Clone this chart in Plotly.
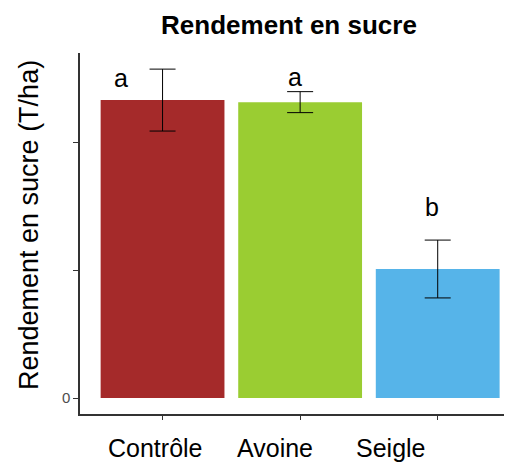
import plotly.graph_objects as go

categories = ["Contrôle", "Avoine", "Seigle"]
values = [11.64, 11.56, 5.04]
errors = [1.21, 0.41, 1.13]
colors = ["#A52A2A", "#9ACD32", "#56B4E9"]
letters = ["a", "a", "b"]
letter_y = [12.5, 12.55, 7.45]
letter_dx = [-0.3, -0.04, -0.04]
label_dx = [-0.05, -0.18, -0.34]
ytick_vals = [0, 5, 10]
ytick_text = ["0", "", ""]

FONT = "Liberation Sans, Arial"

fig = go.Figure()
fig.add_trace(go.Bar(
    x=list(range(len(categories))), y=values,
    marker=dict(color=colors, line=dict(width=0)),
    width=0.9,
    error_y=dict(type="data", array=errors, visible=True, color="black", thickness=1, width=13),
))

for i, (l, ly, dx) in enumerate(zip(letters, letter_y, letter_dx)):
    fig.add_annotation(x=i + dx, y=ly, text=l, showarrow=False,
                       font=dict(size=25, color="black", family=FONT))

for i, (c, dx) in enumerate(zip(categories, label_dx)):
    fig.add_annotation(x=i + dx, y=0, xref="x", yref="paper", yanchor="top", yshift=-18,
                       text=c, showarrow=False,
                       font=dict(size=25, color="black", family=FONT))

# y-axis title
fig.add_annotation(x=0, y=0.5235, xref="paper", yref="paper", xshift=-51,
                   xanchor="center", yanchor="middle", textangle=-90,
                   text="Rendement en sucre (T/ha)", showarrow=False,
                   font=dict(size=27, color="black", family=FONT))

fig.update_layout(
    width=504, height=455,
    margin=dict(l=72, r=0, t=45, b=49),
    plot_bgcolor="white", paper_bgcolor="white",
    showlegend=False,
    title=dict(text="<b>Rendement en sucre</b>", x=0.5575, xanchor="center", y=0.963, yanchor="middle",
               font=dict(size=26, color="black", family=FONT)),
    font=dict(family=FONT),
)
fig.update_xaxes(
    range=[-0.6, 2.54],
    tickvals=list(range(len(categories))), ticktext=["", "", ""],
    showline=True, linecolor="#333333", linewidth=1.5,
    ticks="outside", ticklen=4, tickcolor="#333333",
    showgrid=False, zeroline=False, automargin=False,
)
fig.update_yaxes(
    range=[-0.625, 13.48],
    tickvals=ytick_vals, ticktext=ytick_text,
    showline=True, linecolor="#333333", linewidth=1.5,
    ticks="outside", ticklen=5, tickcolor="#333333",
    tickfont=dict(size=15, color="#4d4d4d"),
    showgrid=False, zeroline=False, automargin=False,
)

fig.write_html("out.html")
